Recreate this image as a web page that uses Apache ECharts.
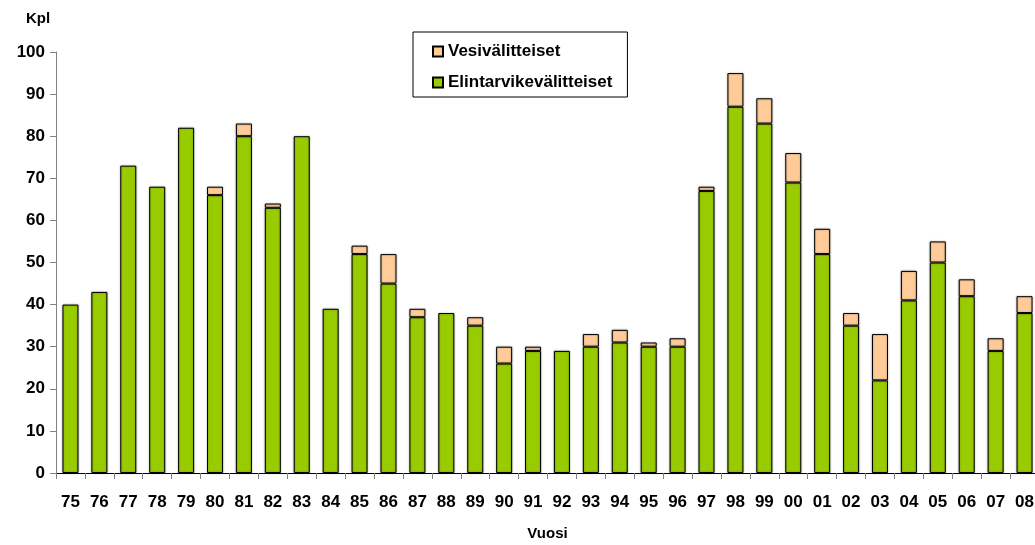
<!DOCTYPE html>
<html>
<head>
<meta charset="utf-8">
<script src="https://cdn.jsdelivr.net/npm/echarts@6/dist/echarts.min.js"></script>
<style>
  html, body { margin: 0; padding: 0; background: #fff; }
  #chart { width: 1035px; height: 545px; }
</style>
</head>
<body>
<div id="chart"></div>
<script>
// Vuodet (kaksi viimeistä numeroa)
const years = ['75','76','77','78','79','80','81','82','83','84','85','86','87','88','89','90','91','92',
               '93','94','95','96','97','98','99','00','01','02','03','04','05','06','07','08'];

// Elintarvikevälitteiset epidemiat, kpl
const foodborne = [40, 43, 73, 68, 82, 66, 80, 63, 80, 39, 52, 45, 37, 38, 35, 26, 29, 29,
                   30, 31, 30, 30, 67, 87, 83, 69, 52, 35, 22, 41, 50, 42, 29, 38];

// Vesivälitteiset epidemiat, kpl
const waterborne = [0, 0, 0, 0, 0, 2, 3, 1, 0, 0, 2, 7, 2, 0, 2, 4, 1, 0,
                    3, 3, 1, 2, 1, 8, 6, 7, 6, 3, 11, 7, 5, 4, 3, 4];

const yTicks = { min: 0, max: 100, interval: 10 };

const FONT = '"Liberation Sans", Arial, sans-serif';

const chart = echarts.init(document.getElementById('chart'), null, { renderer: 'canvas' });

const barStyle = (color) => ({
  color: color,
  borderColor: '#000',
  borderWidth: 1,
  shadowColor: 'rgba(0,0,0,0.35)',
  shadowBlur: 2
});

chart.setOption({
  animation: false,
  backgroundColor: '#fff',
  title: {
    text: 'Kpl',
    left: 21,
    top: 6,
    textStyle: { fontFamily: FONT, fontWeight: 'bold', fontSize: 15, color: '#000' }
  },
  legend: {
    orient: 'vertical',
    left: 413,
    top: 32,
    data: ['Vesivälitteiset', 'Elintarvikevälitteiset'],
    itemWidth: 10,
    itemHeight: 10,
    itemGap: 14,
    padding: [11, 15, 6, 19],
    backgroundColor: '#fff',
    borderColor: '#000',
    borderWidth: 1,
    borderRadius: 0,
    icon: 'rect',
    textStyle: { fontFamily: FONT, fontWeight: 'bold', fontSize: 17, color: '#000' }
  },
  grid: { left: 56, right: -4, top: 52, bottom: 72, containLabel: false, outerBoundsMode: 'none' },
  xAxis: {
    type: 'category',
    data: years,
    name: 'Vuosi',
    nameLocation: 'middle',
    nameGap: 53,
    nameTextStyle: { fontFamily: FONT, fontWeight: 'bold', fontSize: 15, color: '#000' },
    axisLine: { lineStyle: { color: '#000', width: 1 } },
    axisTick: { show: true, length: 6, lineStyle: { color: '#808080' } },
    axisLabel: { fontFamily: FONT, fontWeight: 'bold', fontSize: 17, color: '#000', margin: 21, interval: 0 }
  },
  yAxis: {
    type: 'value',
    min: yTicks.min,
    max: yTicks.max,
    interval: yTicks.interval,
    axisLine: { show: true, lineStyle: { color: '#808080', width: 1 } },
    axisTick: { show: true, length: 6, lineStyle: { color: '#808080' } },
    splitLine: { show: false },
    axisLabel: { fontFamily: FONT, fontWeight: 'bold', fontSize: 17, color: '#000', margin: 11 }
  },
  series: [
    {
      name: 'Elintarvikevälitteiset',
      type: 'bar',
      stack: 'total',
      barWidth: 16,
      data: foodborne,
      itemStyle: barStyle('#99CC00')
    },
    {
      name: 'Vesivälitteiset',
      type: 'bar',
      stack: 'total',
      barWidth: 16,
      data: waterborne.map(v => (v === 0 ? '-' : v)),
      itemStyle: barStyle('#FFCC99')
    }
  ]
});
</script>
</body>
</html>
